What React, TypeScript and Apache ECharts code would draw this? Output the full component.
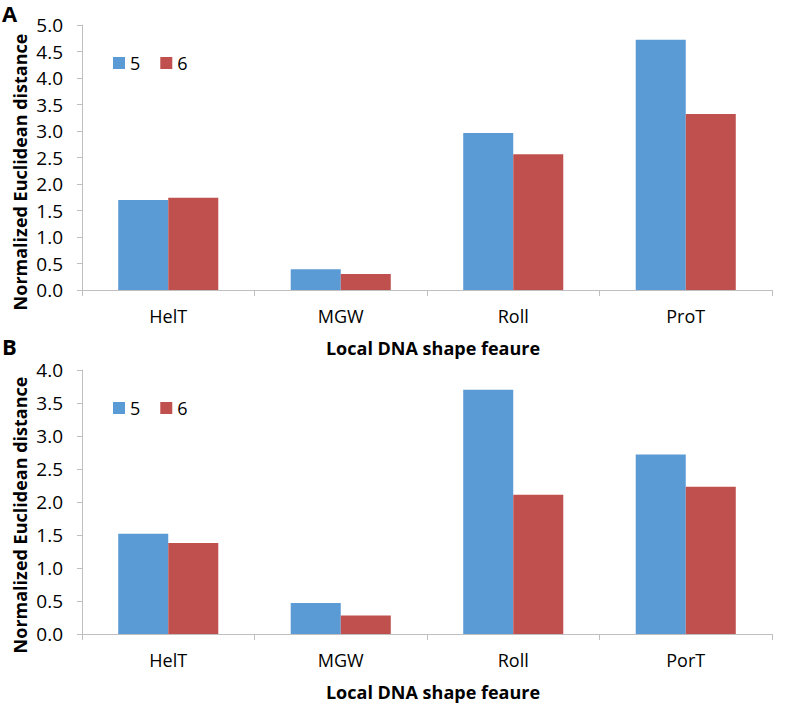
import React, { useEffect, useRef } from "react";
import * as echarts from "echarts";

const categoriesA = ["HelT", "MGW", "Roll", "ProT"];
const categoriesB = ["HelT", "MGW", "Roll", "PorT"];
const seriesNames = ["5", "6"];
const valuesA5 = [1.70, 0.39, 2.96, 4.72];
const valuesA6 = [1.74, 0.30, 2.56, 3.32];
const valuesB5 = [1.52, 0.47, 3.70, 2.72];
const valuesB6 = [1.38, 0.28, 2.11, 2.23];
const xTitle = "Local DNA shape feaure";
const yTitle = "Normalized Euclidean distance";

const FONT = "Open Sans";
const BLUE = "#5B9BD5";
const RED = "#C0504D";
const AXIS = "#BFBFBF";

export default function App() {
  const ref = useRef<HTMLDivElement>(null);
  useEffect(() => {
    document.body.style.margin = "0";
    if (!ref.current) return;
    const chart = echarts.init(ref.current, null, { renderer: "svg" });

    const makeX = (gi: number, cats: string[]) => ({
      type: "category",
      gridIndex: gi,
      data: cats,
      axisLine: { lineStyle: { color: AXIS, width: 1 } },
      axisTick: { show: true, length: 6, lineStyle: { color: AXIS } },
      axisLabel: { color: "#000", fontFamily: FONT, fontSize: 18, margin: 17 },
    });
    const makeY = (gi: number, max: number) => ({
      type: "value",
      gridIndex: gi,
      min: 0,
      max,
      interval: 0.5,
      axisLine: { show: true, lineStyle: { color: AXIS, width: 1 } },
      axisTick: { show: true, length: 5, lineStyle: { color: AXIS } },
      splitLine: { show: false },
      axisLabel: {
        color: "#000",
        fontFamily: FONT,
        fontSize: 19,
        margin: 19,
        formatter: (v: number) => v.toFixed(1),
      },
    });
    const bar = (name: string, color: string, data: number[], gi: number) => ({
      type: "bar",
      name,
      xAxisIndex: gi,
      yAxisIndex: gi,
      data,
      barGap: "0%",
      barCategoryGap: "42%",
      itemStyle: { color },
    });
    const legend = (top: number) => ({
      data: seriesNames,
      left: 108,
      top,
      icon: "rect",
      itemWidth: 12,
      itemHeight: 12,
      itemGap: 20,
      selectedMode: false,
      textStyle: { fontFamily: FONT, fontSize: 18, color: "#000" },
    });
    const text = (t: string, x: number, y: number, opts: any = {}) => ({
      type: "text",
      x,
      y,
      rotation: opts.rotation || 0,
      style: {
        text: t,
        fill: "#000",
        font: `bold ${opts.size || 18}px "${FONT}"`,
        textAlign: opts.align || "center",
        textVerticalAlign: opts.valign || "middle",
      },
    });

    chart.setOption({
      animation: false,
      grid: [
        { left: 82, width: 690, top: 25, height: 265 },
        { left: 82, width: 690, top: 370, height: 264 },
      ],
      xAxis: [makeX(0, categoriesA), makeX(1, categoriesB)],
      yAxis: [makeY(0, 5), makeY(1, 4)],
      legend: [legend(49), legend(394)],
      series: [
        bar(seriesNames[0], BLUE, valuesA5, 0),
        bar(seriesNames[1], RED, valuesA6, 0),
        bar(seriesNames[0], BLUE, valuesB5, 1),
        bar(seriesNames[1], RED, valuesB6, 1),
      ],
      graphic: [
        text("A", 2, 13, { size: 22, align: "left" }),
        text("B", 2, 346, { size: 22, align: "left" }),
        text(xTitle, 433, 348),
        text(xTitle, 433, 692),
        text(yTitle, 20, 172, { rotation: Math.PI / 2 }),
        text(yTitle, 20, 515, { rotation: Math.PI / 2 }),
      ],
    });
    return () => chart.dispose();
  }, []);
  return <div ref={ref} style={{ width: 787, height: 703 }} />;
}
